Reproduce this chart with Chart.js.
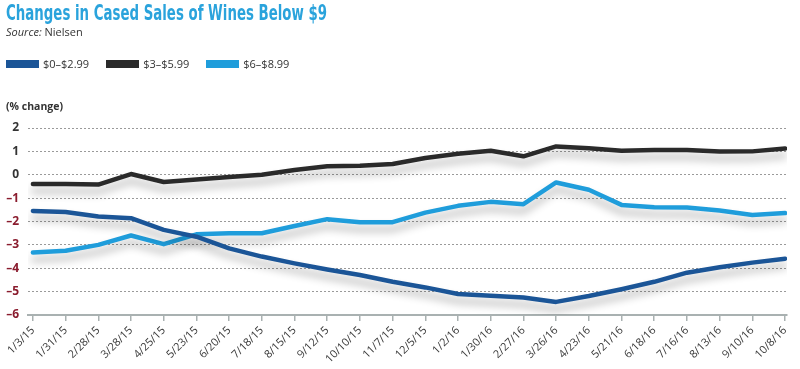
<!DOCTYPE html>
<html>
<head>
<meta charset="utf-8">
<script src="https://cdn.jsdelivr.net/npm/chart.js@4"></script>
<style>
  html, body { margin: 0; padding: 0; background: #fff; }
  #wrap { position: relative; width: 800px; height: 369px; overflow: hidden; }
  #c { position: absolute; left: 0; top: 0; }
  .hd { position: absolute; white-space: nowrap; font-family: "Open Sans", "Noto Sans", sans-serif; color: #333; }
  #title { left: 6px; top: 0px; font: bold 22px "Liberation Sans Narrow", "DejaVu Sans Condensed", "Open Sans", sans-serif; color: #2aa3dc; transform-origin: left top; }
  #source { left: 6px; top: 24px; font-size: 11px; }
  #legend { left: 6px; top: 56px; font-size: 11px; display: flex; align-items: center; }
  .item { display: flex; align-items: center; }
  .sw { width: 33px; height: 8px; margin-right: 4px; }
  #unit { left: 6px; top: 99px; font-size: 10.5px; font-weight: bold; }
</style>
</head>
<body>
<div id="wrap">
  <canvas id="c" width="800" height="369"></canvas>
  <div class="hd" id="title">Changes in Cased Sales of Wines Below $9</div>
  <div class="hd" id="source"><i>Source:</i> Nielsen</div>
  <div class="hd" id="legend"></div>
  <div class="hd" id="unit">(% change)</div>
</div>
<script>
const categories = ['1/3/15','1/31/15','2/28/15','3/28/15','4/25/15','5/23/15','6/20/15','7/18/15','8/15/15','9/12/15','10/10/15','11/7/15','12/5/15','1/2/16','1/30/16','2/27/16','3/26/16','4/23/16','5/21/16','6/18/16','7/16/16','8/13/16','9/10/16','10/8/16'];
const seriesNames = ['$0\u2013$2.99', '$3\u2013$5.99', '$6\u2013$8.99'];
const low = [-1.55,-1.59,-1.79,-1.86,-2.36,-2.65,-3.15,-3.5,-3.79,-4.05,-4.29,-4.58,-4.82,-5.1,-5.18,-5.25,-5.44,-5.19,-4.9,-4.58,-4.19,-3.96,-3.76,-3.59];
const mid = [-0.4,-0.4,-0.42,0.03,-0.31,-0.2,-0.1,0.0,0.2,0.36,0.39,0.46,0.72,0.9,1.03,0.79,1.21,1.13,1.03,1.06,1.06,0.99,1.0,1.12];
const high = [-3.33,-3.25,-3.0,-2.6,-2.97,-2.55,-2.5,-2.5,-2.19,-1.9,-2.03,-2.03,-1.62,-1.33,-1.16,-1.26,-0.33,-0.64,-1.29,-1.39,-1.4,-1.53,-1.72,-1.64];
const yTicks = [2,1,0,-1,-2,-3,-4,-5,-6];
const colors = ['#1b5597', '#2a2a2a', '#1f9ddb'];

// legend
const lg = document.getElementById('legend');
seriesNames.forEach((n, i) => {
  const it = document.createElement('div');
  it.className = 'item';
  it.style.marginRight = '17px';
  it.innerHTML = '<div class="sw" style="background:' + colors[i] + '"></div><span>' + n + '</span>';
  lg.appendChild(it);
});
// fit title width
const t = document.getElementById('title');
const w = t.getBoundingClientRect().width;
t.style.transform = 'scaleX(' + (321 / w) + ')';

const shadow = {
  id: 'shadow',
  beforeDatasetDraw(chart) {
    const c = chart.ctx; c.save();
    c.shadowColor = 'rgba(0,0,0,0.3)'; c.shadowBlur = 9; c.shadowOffsetY = 7;
  },
  afterDatasetDraw(chart) { chart.ctx.restore(); }
};

const toPts = arr => arr.map((v, i) => ({ x: i, y: v }));

new Chart(document.getElementById('c'), {
  type: 'line',
  data: {
    datasets: [
      { label: seriesNames[0], data: toPts(low), borderColor: colors[0] },
      { label: seriesNames[1], data: toPts(mid), borderColor: colors[1] },
      { label: seriesNames[2], data: toPts(high), borderColor: colors[2] }
    ]
  },
  options: {
    responsive: false,
    animation: false,
    layout: { padding: { left: 0, top: 128, right: 13, bottom: 0 } },
    elements: {
      line: { borderWidth: 4.5, tension: 0, borderJoinStyle: 'round', borderCapStyle: 'round' },
      point: { radius: 0 }
    },
    plugins: { legend: { display: false }, title: { display: false }, tooltip: { enabled: false } },
    scales: {
      x: {
        type: 'linear',
        min: -0.15, max: 23.06,
        afterBuildTicks: s => { s.ticks = categories.map((_, i) => ({ value: i })); },
        afterFit: s => { s.height = 54; },
        ticks: {
          autoSkip: false, minRotation: 45, maxRotation: 45, padding: 3,
          color: '#3a3a3a', font: { family: '"Open Sans", "Noto Sans", sans-serif', size: 11 },
          callback: (v, i) => categories[i]
        },
        grid: { drawOnChartArea: false, drawTicks: true, tickLength: 6, color: '#a9b1b1', lineWidth: 1.5 },
        border: { display: true, color: '#a9b1b1', width: 2 }
      },
      y: {
        min: -6, max: 2,
        afterBuildTicks: s => { s.ticks = yTicks.map(v => ({ value: v })); },
        afterFit: s => { s.width = 28; },
        ticks: {
          padding: 9,
          font: { family: '"Open Sans", "Noto Sans", sans-serif', size: 12, weight: 'bold' },
          color: ctx => (ctx.tick.value < 0 ? '#8a1c2e' : '#333'),
          callback: v => (v < 0 ? '\u2013' + Math.abs(v) : String(v))
        },
        grid: {
          drawTicks: false,
          color: ctx => (ctx.tick && ctx.tick.value === -6 ? 'rgba(0,0,0,0)' : '#9a9a9a'),
          lineWidth: 1
        },
        border: { display: false, dash: [2, 2] }
      }
    }
  },
  plugins: [shadow]
});
</script>
</body>
</html>
